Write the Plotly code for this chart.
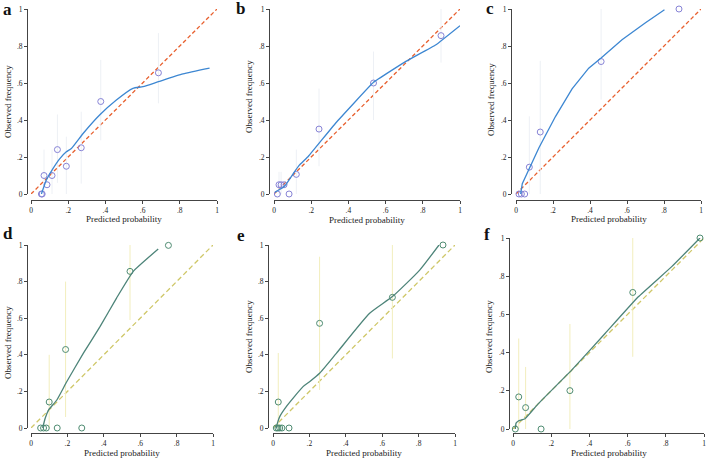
import plotly.graph_objects as go

W, H = 708, 461

# ---------------- data ----------------
a_px = [0.056, 0.06, 0.07, 0.086, 0.113, 0.142, 0.19, 0.27, 0.375, 0.685]
a_py = [0.0, 0.0, 0.10, 0.05, 0.10, 0.24, 0.15, 0.25, 0.50, 0.655]
a_lo = [0.0, 0.0, 0.0, 0.0, 0.0, 0.06, 0.0, 0.056, 0.29, 0.49]
a_hi = [0.0, 0.0, 0.24, 0.0, 0.24, 0.43, 0.31, 0.445, 0.725, 0.87]
a_lx = [0.056, 0.082, 0.118, 0.154, 0.19, 0.217, 0.28, 0.369, 0.459, 0.548, 0.602, 0.685, 0.817, 0.96]
a_ly = [0.0, 0.074, 0.137, 0.19, 0.228, 0.246, 0.327, 0.427, 0.508, 0.571, 0.58, 0.607, 0.649, 0.68]

b_px = [0.018, 0.027, 0.038, 0.054, 0.081, 0.12, 0.242, 0.535, 0.898]
b_py = [0.0, 0.05, 0.05, 0.05, 0.0, 0.106, 0.351, 0.60, 0.856]
b_lo = [0.0, 0.0, 0.0, 0.0, 0.0, 0.0, 0.15, 0.40, 0.71]
b_hi = [0.0, 0.12, 0.12, 0.0, 0.0, 0.24, 0.57, 0.77, 1.0]
b_lx = [0.005, 0.027, 0.045, 0.063, 0.108, 0.135, 0.185, 0.332, 0.535, 0.709, 0.871, 1.0]
b_ly = [0.009, 0.023, 0.032, 0.05, 0.117, 0.155, 0.204, 0.384, 0.604, 0.717, 0.807, 0.91]

c_px = [0.016, 0.029, 0.047, 0.072, 0.131, 0.46, 0.881]
c_py = [0.0, 0.0, 0.0, 0.145, 0.335, 0.716, 1.0]
c_lo = [0.0, 0.0, 0.0, 0.0, 0.0, 0.51, 1.0]
c_hi = [0.0, 0.0, 0.0, 0.42, 0.72, 1.0, 1.0]
c_lx = [0.025, 0.029, 0.034, 0.124, 0.214, 0.303, 0.393, 0.46, 0.573, 0.698, 0.8025]
c_ly = [0.0, 0.038, 0.056, 0.250, 0.420, 0.568, 0.680, 0.735, 0.834, 0.924, 0.996]

d_px = [0.053, 0.069, 0.084, 0.10, 0.144, 0.19, 0.279, 0.544, 0.755]
d_py = [0.0, 0.0, 0.0, 0.142, 0.0, 0.429, 0.0, 0.856, 0.998]
d_lo = [0.0, 0.0, 0.0, 0.0, 0.0, 0.06, 0.0, 0.59, 0.998]
d_hi = [0.0, 0.0, 0.0, 0.40, 0.0, 0.80, 0.0, 1.0, 0.998]
d_lx = [0.064, 0.078, 0.097, 0.142, 0.197, 0.288, 0.38, 0.47, 0.562, 0.699]
d_ly = [0.0, 0.053, 0.099, 0.153, 0.254, 0.409, 0.555, 0.71, 0.856, 0.978]

e_px = [0.018, 0.027, 0.037, 0.049, 0.029, 0.088, 0.256, 0.656, 0.934]
e_py = [0.0, 0.0, 0.0, 0.0, 0.142, 0.0, 0.572, 0.714, 1.0]
e_lo = [0.0, 0.0, 0.0, 0.0, 0.0, 0.0, 0.208, 0.38, 1.0]
e_hi = [0.0, 0.0, 0.0, 0.0, 0.41, 0.0, 0.936, 1.0, 1.0]
e_lx = [0.018, 0.024, 0.037, 0.073, 0.165, 0.201, 0.256, 0.348, 0.531, 0.656, 0.806, 0.912]
e_ly = [0.0, 0.025, 0.062, 0.117, 0.226, 0.253, 0.299, 0.408, 0.627, 0.718, 0.863, 1.0]

f_px = [0.012, 0.03, 0.066, 0.147, 0.298, 0.627, 0.979]
f_py = [0.0, 0.168, 0.112, 0.0, 0.201, 0.715, 1.0]
f_lo = [0.0, 0.0, 0.0, 0.0, 0.0, 0.378, 1.0]
f_hi = [0.0, 0.474, 0.325, 0.0, 0.55, 1.0, 1.0]
f_lx = [0.012, 0.016, 0.028, 0.063, 0.133, 0.307, 0.482, 0.656, 0.831, 0.979]
f_ly = [0.0, 0.031, 0.042, 0.054, 0.133, 0.308, 0.5, 0.692, 0.85, 1.0]

diag = [0.0, 1.0]
tick_vals = [0, 0.2, 0.4, 0.6, 0.8, 1]
tick_text = ["0", ".2", ".4", ".6", ".8", "1"]
panel_letters = ["a", "b", "c", "d", "e", "f"]

# ---------------- layout geometry (pixels) ----------------
# (x0, x1, ytop, ybottom, yaxis_line_x, xaxis_line_y, label_x, label_y, ytitle_x, ytitle_y, xtitle_y)
geo = [
    (31, 217, 9, 194, 27, 200, 7, 10, 8, 102, 219),
    (274, 460, 9, 194, 269, 200, 240, 8, 249, 97, 220),
    (516, 701, 9, 194, 511, 200, 490, 9, 491, 100, 219),
    (31, 213, 245, 428, 27, 433, 8, 233, 8, 343, 453),
    (273, 455, 245, 428, 268, 433, 241, 235, 249, 337, 453),
    (513, 704, 238, 429, 509, 433, 487, 234, 489, 337, 453),
]

panels = [
    (a_px, a_py, a_lo, a_hi, a_lx, a_ly),
    (b_px, b_py, b_lo, b_hi, b_lx, b_ly),
    (c_px, c_py, c_lo, c_hi, c_lx, c_ly),
    (d_px, d_py, d_lo, d_hi, d_lx, d_ly),
    (e_px, e_py, e_lo, e_hi, e_lx, e_ly),
    (f_px, f_py, f_lo, f_hi, f_lx, f_ly),
]
smooth = [0.5, 0.2, 0.0, 0.4, 0.5, 0.3]

top_style = dict(line="#3d87d2", marker="#8783d6", diag="#e8602f", err="#edf0f5", diagdash="4px,2.5px")
bot_style = dict(line="#4d8479", marker="#4f8c72", diag="#cfc768", err="#f2eebd", diagdash="5px,3px")

FONT = "Liberation Serif"

fig = go.Figure()
layout = dict(
    width=W, height=H,
    margin=dict(l=0, r=0, t=0, b=0, autoexpand=False),
    paper_bgcolor="white", plot_bgcolor="white",
    showlegend=False,
    font=dict(family=FONT, size=8, color="#222"),
    annotations=[],
)

def px2x(p):
    return p / W

def px2y(p):
    return (H - p) / H

for i, (pan, g) in enumerate(zip(panels, geo)):
    px_, py_, lo_, hi_, lx_, ly_ = pan
    x0, x1, yt, yb, yl, xl, lbx, lby, ytx, yty, xty = g
    st = top_style if i < 3 else bot_style
    n = "" if i == 0 else str(i + 1)
    xa, ya = "x" + n, "y" + n

    fig.add_trace(go.Scatter(x=diag, y=diag, mode="lines", xaxis=xa, yaxis=ya,
                             line=dict(color=st["diag"], width=1.3, dash=st["diagdash"]),
                             hoverinfo="skip"))
    fig.add_trace(go.Scatter(
        x=px_, y=py_, mode="markers", xaxis=xa, yaxis=ya, cliponaxis=False,
        marker=dict(symbol="circle-open", size=6, color=st["marker"], line=dict(width=1)),
        error_y=dict(type="data", symmetric=False,
                     array=[h - y for h, y in zip(hi_, py_)],
                     arrayminus=[y - l for l, y in zip(lo_, py_)],
                     width=0, thickness=1, color=st["err"]),
    ))
    line_kw = dict(color=st["line"], width=1.3)
    if smooth[i] > 0:
        line_kw.update(shape="spline", smoothing=smooth[i])
    fig.add_trace(go.Scatter(x=lx_, y=ly_, mode="lines", xaxis=xa, yaxis=ya,
                             line=line_kw, hoverinfo="skip"))

    axis_common = dict(range=[0, 1], tickvals=tick_vals, ticktext=tick_text,
                       showgrid=False, zeroline=False, showline=True, linecolor="#444",
                       linewidth=1, ticks="outside", ticklen=3, tickcolor="#444",
                       tickfont=dict(family=FONT, size=7.5, color="#222"), anchor="free",
                       automargin=False)
    layout["xaxis" + n] = dict(axis_common, domain=[px2x(x0), px2x(x1)], position=px2y(xl))
    layout["yaxis" + n] = dict(axis_common, domain=[px2y(yb), px2y(yt)], position=px2x(yl))

    layout["annotations"] += [
        dict(text="<b>%s</b>" % panel_letters[i], x=px2x(lbx), y=px2y(lby), xref="paper", yref="paper",
             showarrow=False, font=dict(family=FONT, size=17, color="#111"), xanchor="center", yanchor="middle"),
        dict(text="Predicted probability", x=px2x((x0 + x1) / 2), y=px2y(xty), xref="paper", yref="paper",
             showarrow=False, font=dict(family=FONT, size=9, color="#222"), xanchor="center", yanchor="middle",
             borderpad=0),
        dict(text="Observed frequency", x=px2x(ytx), y=px2y(yty), xref="paper", yref="paper", textangle=-90,
             showarrow=False, font=dict(family=FONT, size=9, color="#222"), xanchor="center", yanchor="middle",
             borderpad=0),
    ]

fig.update_layout(**layout)
fig.write_html("out.html")
